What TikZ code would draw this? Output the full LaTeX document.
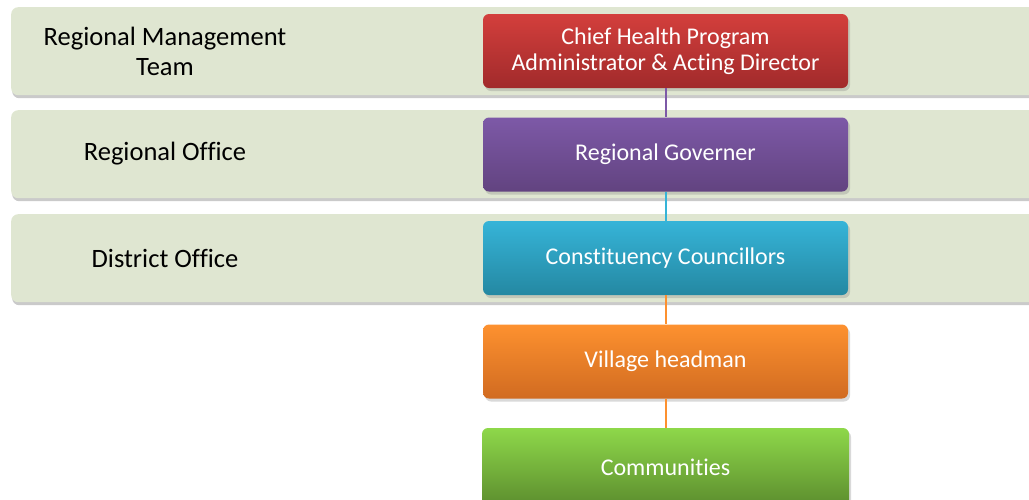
\documentclass[tikz,border=0pt]{standalone}
\usepackage{fontspec}
\setmainfont{Carlito}[Ligatures=NoCommon]
\usetikzlibrary{shadows}
\definecolor{bandfill}{HTML}{DFE6D1}
\definecolor{redT}{HTML}{D33F3C}\definecolor{redB}{HTML}{A12A2B}
\definecolor{purT}{HTML}{7D59A7}\definecolor{purB}{HTML}{624380}
\definecolor{teaT}{HTML}{36B4D8}\definecolor{teaB}{HTML}{2488A2}
\definecolor{oraT}{HTML}{FD912F}\definecolor{oraB}{HTML}{D16B21}
\definecolor{griT}{HTML}{8ED84A}\definecolor{griB}{HTML}{5C8D2E}
\tikzset{
  band/.style={fill=bandfill, rounded corners=7pt, minimum width=1030pt, minimum height=88pt, anchor=north west, inner sep=0pt,
    drop shadow={shadow xshift=1pt, shadow yshift=-3pt, opacity=0.35, fill=black!60}},
  bandlabel/.style={font=\fontsize{26.5}{30}\selectfont, text=black, align=center},
  orgbox/.style={rounded corners=6pt, minimum width=365pt, minimum height=74pt, inner sep=0pt, text=white,
    font=\fontsize{24}{26}\selectfont, align=center,
    drop shadow={shadow xshift=2pt, shadow yshift=-3pt, opacity=0.3}},
  link/.style={line width=2pt}
}
\begin{document}
\begin{tikzpicture}[x=1pt,y=-1pt]
\useasboundingbox (0,0) rectangle (1029,499);
\clip (0,0) rectangle (1029,499);
\node[band] (b1) at (11,7) {};
\node[band] (b2) at (11,110) {};
\node[band] (b3) at (11,214) {};
\node[bandlabel] (l1) at (165,51) {Regional Management\\Team};
\node[bandlabel] (l2) at (165,154) {Regional Office};
\node[bandlabel] (l3) at (165,258) {District Office};
\node[orgbox, top color=redT, bottom color=redB] (n1) at (665.5,51) {Chief Health Program\\Administrator \& Acting Director};
\node[orgbox, top color=purT, bottom color=purB] (n2) at (665.5,154.5) {Regional Governer};
\node[orgbox, top color=teaT, bottom color=teaB] (n3) at (665.5,258) {Constituency Councillors};
\node[orgbox, top color=oraT, bottom color=oraB] (n4) at (665.5,361.5) {Village headman};
\node[orgbox, top color=griT, bottom color=griB, minimum width=367pt, minimum height=78pt] (n5) at (665.5,467) {Communities};
\draw[link, color=purT] (n1.south) -- (n2.north);
\draw[link, color=teaT] (n2.south) -- (n3.north);
\draw[link, color=oraT] (n3.south) -- (n4.north);
\draw[link, color=oraT] (n4.south) -- (n5.north);
\end{tikzpicture}
\end{document}
